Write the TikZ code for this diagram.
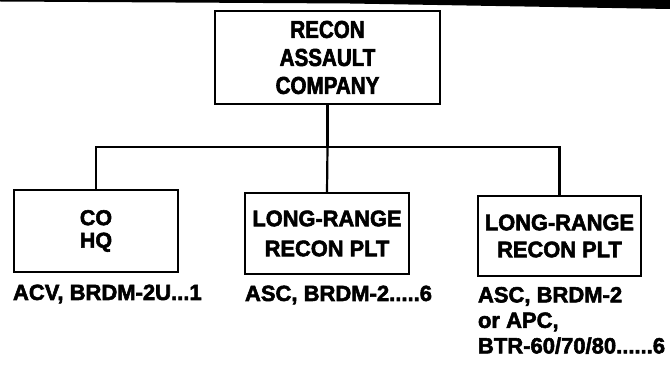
\documentclass[tikz,border=0pt]{standalone}
\usepackage{fontspec}
\setmainfont{Liberation Sans}[BoldFeatures={FakeBold=2.5}]
\tikzset{
  every node/.style={inner sep=0pt, outer sep=0pt},
  box/.style={draw, line width=2.2pt, align=center},
  wire/.style={line width=2.2pt},
  lab/.style={font=\fontsize{22}{25.5}\selectfont\bfseries, align=left},
}
\begin{document}
\begin{tikzpicture}[x=1pt, y=-1pt]
\useasboundingbox (0,0) rectangle (670,366);
% scanned top edge bar
\fill (0,0) -- (670,0) -- (670,9) -- (350,3.5) -- (0,1.5) -- cycle;
% boxes
\node[box, minimum width=225pt, minimum height=93pt,
      font=\fontsize{24.5}{28}\selectfont\bfseries\addfontfeatures{FakeStretch=0.84}]
  (top) at (327.5,57.5) {RECON\\ASSAULT\\COMPANY};
\node[box, minimum width=164pt, minimum height=82pt,
      font=\fontsize{21.5}{22.5}\selectfont\bfseries]
  (b1) at (96,231) {CO\\HQ};
\node[box, minimum width=164pt, minimum height=81pt,
      font=\fontsize{22.5}{30}\selectfont\bfseries\addfontfeatures{FakeStretch=0.97}]
  (b2) at (327,233.5) {LONG-RANGE\\RECON PLT};
\node[box, minimum width=163pt, minimum height=80pt,
      font=\fontsize{22.5}{27}\selectfont\bfseries\addfontfeatures{FakeStretch=0.97}]
  (b3) at (559.5,236) {LONG-RANGE\\RECON PLT};
% connectors
\coordinate (hl) at (96,147);
\coordinate (hm) at (327.5,147);
\coordinate (hr) at (559.5,147);
\draw[wire] (top.south) -- (hm);
\draw[wire] (b1.north) -- (hl) -- (hr) -- (b3.north);
\draw[wire] (hm) -- (b2.north);
% labels
\node[lab, anchor=base west] (l1) at (13,300) {ACV, BRDM-2U...1};
\node[lab, anchor=base west] (l2) at (245,301) {ASC, BRDM-2.....6};
\node[lab, anchor=north west] (l3) at (478,287) {ASC, BRDM-2\\or APC,\\BTR-60/70/80......6};
\end{tikzpicture}
\end{document}
